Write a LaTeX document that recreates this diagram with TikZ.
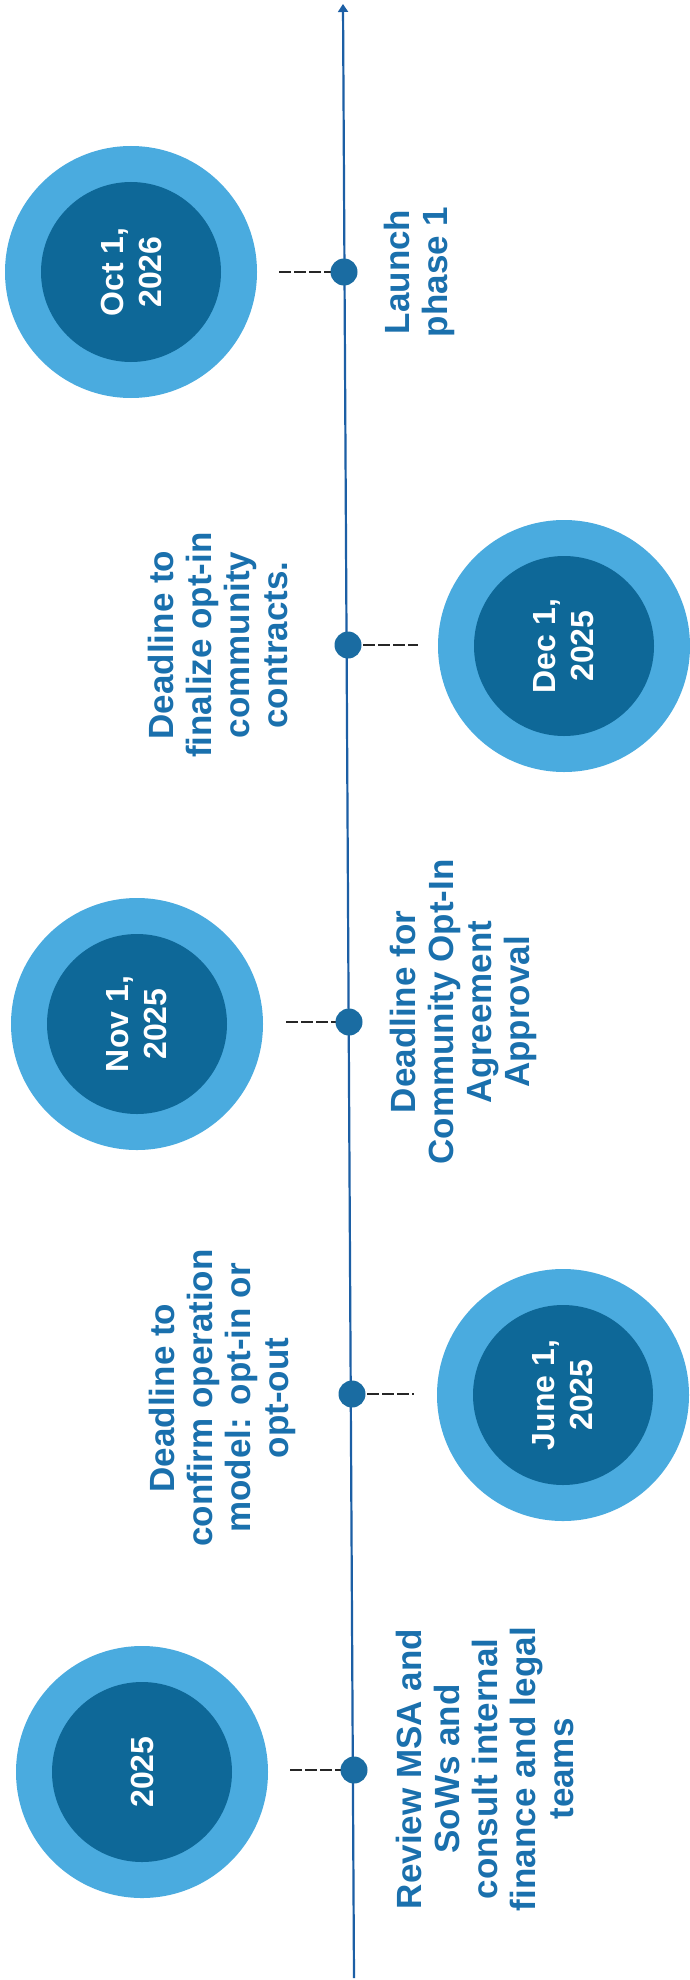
\documentclass[tikz,border=0pt]{standalone}
\usepackage{fontspec}
\setmainfont{Liberation Sans}
\usetikzlibrary{arrows.meta}
\definecolor{outerblue}{HTML}{4AABDF}
\definecolor{innerblue}{HTML}{0E6898}
\definecolor{lineblue}{HTML}{1C5FA5}
\definecolor{dotblue}{HTML}{1A6CA2}
\definecolor{textblue}{HTML}{1A70AD}
\begin{document}
\begin{tikzpicture}[x=1pt,y=-1pt,
  outerc/.style={circle,fill=outerblue,minimum size=252pt,inner sep=0pt},
  innerc/.style={circle,fill=innerblue,minimum size=180pt,inner sep=0pt,text=white,
    font=\fontsize{32}{38}\selectfont\bfseries,align=center,rotate=90},
  dotc/.style={circle,fill=dotblue,minimum size=27pt,inner sep=0pt},
  lbl/.style={text=textblue,font=\fontsize{35}{38}\selectfont\bfseries,align=center,rotate=90,inner sep=0pt},
  conn/.style={draw=black!85,line width=1.5pt,dash pattern=on 12pt off 3pt},
  axis/.style={draw=lineblue,line width=2.2pt,-{Triangle[width=10pt,length=8pt]}}
]
\fill[white] (0,0) rectangle (690,1980);
\useasboundingbox (0,0) rectangle (690,1980);

% timeline
\coordinate (bot) at (354,1978);
\coordinate (top) at (343,4);
\draw[axis] (bot) -- (top);

% circles
\node[outerc] (o1) at (131,272) {};
\node[innerc] (c1) at (131,272) {Oct 1,\\2026};
\node[outerc] (o2) at (564,646) {};
\node[innerc] (c2) at (564,646) {Dec 1,\\2025};
\node[outerc] (o3) at (137,1024) {};
\node[innerc] (c3) at (137,1024) {Nov 1,\\2025};
\node[outerc] (o4) at (563,1395) {};
\node[innerc] (c4) at (563,1395) {June 1,\\2025};
\node[outerc] (o5) at (142,1772) {};
\node[innerc] (c5) at (142,1772) {2025};

% dots (positions only, drawn after connectors)
\coordinate (p1) at (344,272);
\coordinate (p2) at (348,645);
\coordinate (p3) at (349,1022);
\coordinate (p4) at (352,1394);
\coordinate (p5) at (354,1770);

% connector free ends
\coordinate (k1) at (279,272);
\coordinate (k2) at (418,645);
\coordinate (k3) at (286,1022);
\coordinate (k4) at (414,1394);
\coordinate (k5) at (290,1770);

\draw[conn] (k1) -- (p1);
\draw[conn] (p2) -- (k2);
\draw[conn] (k3) -- (p3);
\draw[conn] (p4) -- (k4);
\draw[conn] (k5) -- (p5);

\node[dotc] (d1) at (p1) {};
\node[dotc] (d2) at (p2) {};
\node[dotc] (d3) at (p3) {};
\node[dotc] (d4) at (p4) {};
\node[dotc] (d5) at (p5) {};

% labels
\node[lbl] (l1) at (419,272) {Launch\\phase 1};
\node[lbl] (l2) at (218,645) {Deadline to\\finalize opt-in\\community\\contracts.};
\node[lbl] (l3) at (463,1012) {Deadline for\\Community Opt-In\\Agreement\\Approval};
\node[lbl] (l4) at (222,1398) {Deadline to\\confirm operation\\model: opt-in or\\opt-out};
\node[lbl] (l5) at (485,1769) {Review MSA and\\SoWs and\\consult internal\\finance and legal\\teams};
\end{tikzpicture}
\end{document}
